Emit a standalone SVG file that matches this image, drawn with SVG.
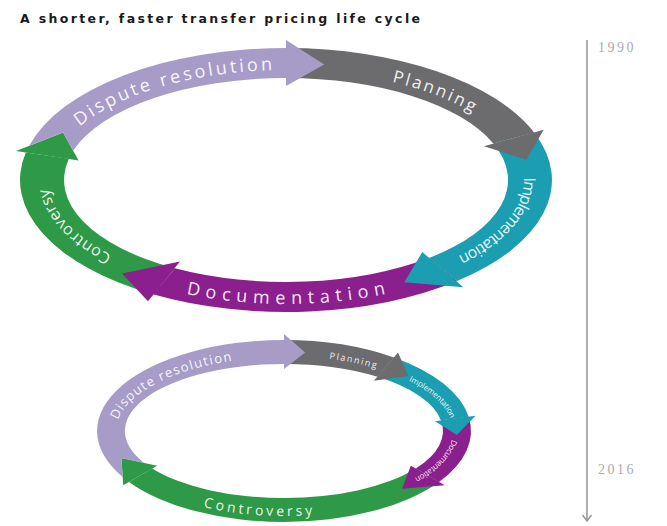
<svg xmlns="http://www.w3.org/2000/svg" xmlns:xlink="http://www.w3.org/1999/xlink" width="667" height="526" viewBox="0 0 667 526">
<style>
.lav{fill:#a79cc7}.gry{fill:#6c6c6f}.tea{fill:#1b9db2}.pur{fill:#8c1f8e}.grn{fill:#2e9a48}
.lbl{fill:#fff;fill-opacity:.92;font-family:"Open Sans","Liberation Sans",sans-serif;dominant-baseline:central}
.yr{fill:#ababab;font-family:"Liberation Serif",serif;font-size:14px;letter-spacing:2.5px}
.title{fill:#1a1a1a;font-family:"DejaVu Sans","Liberation Sans",sans-serif;font-weight:bold;font-size:12.5px}
.tl{fill:none;stroke:#9a9a9a;stroke-width:1.6}
</style>
<defs>
<path id="tp-dis" d="M 64.9 130.6 A 244 117 0 0 1 286 63"/>
<path id="tp-pla" d="M 381.3 72.3 A 244 117 0 0 1 485.9 112.9"/>
<path id="tp-imp" d="M 529.4 171.8 A 244 117 0 0 1 455.5 264.2"/>
<path id="tp-doc" d="M 171.4 283.3 A 244 117 0 0 0 400.6 283.3"/>
<path id="tp-con" d="M 129.2 269.6 A 244 117 0 0 1 43.3 167.8"/>
<path id="tpb-dis" d="M 112 422.7 A 173 79 0 0 1 236.3 355.1"/>
<path id="tpb-pla" d="M 322.9 354 A 173 79 0 0 1 383.2 366.3"/>
<path id="tpb-imp" d="M 399.8 372.3 A 173 79 0 0 1 456.9 428.2"/>
<path id="tpb-doc" d="M 456.6 436.5 A 173 79 0 0 1 412.6 483.9"/>
<path id="tpb-con" d="M 177.5 493.3 A 173 79 0 0 0 340.3 505.7"/>
</defs>
<g id="title"><text class="title" x="20" y="23" textLength="400" lengthAdjust="spacing">A shorter, faster transfer pricing life cycle</text></g>

<g id="cycle-1990">
<g id="c1-controversy">
<path class="grn" d="M 153 294.3 A 266 132 0 0 1 25.8 152.6 L 68.9 158.8 A 222 102 0 0 0 175 268.3 Z"/>
<polygon class="grn" points="16,150.9 63.1,132.4 78.6,160.5"/>
<text class="lbl" font-size="16"><textPath xlink:href="#tp-con" href="#tp-con" startOffset="50%" text-anchor="middle" textLength="100" lengthAdjust="spacing">Controversy</textPath></text>
</g>
<g id="c1-documentation">
<path class="pur" d="M 457 281.1 A 266 132 0 0 1 153 294.3 L 175 268.3 A 222 102 0 0 0 428.7 258.1 Z"/>
<polygon class="pur" points="148,301.2 122,273.6 180,261.4"/>
<text class="lbl" font-size="18"><textPath xlink:href="#tp-doc" href="#tp-doc" startOffset="50%" text-anchor="middle" textLength="198" lengthAdjust="spacing">Documentation</textPath></text>
</g>
<g id="c1-implementation">
<path class="tea" d="M 534.3 132.7 A 266 132 0 0 1 457 281.1 L 428.7 258.1 A 222 102 0 0 0 493.3 143.4 Z"/>
<polygon class="tea" points="463.4,287.2 404.3,282.3 422.3,252"/>
<text class="lbl" font-size="16"><textPath xlink:href="#tp-imp" href="#tp-imp" startOffset="50%" text-anchor="middle" textLength="115" lengthAdjust="spacing">Implementation</textPath></text>
</g>
<g id="c1-planning">
<path class="gry" d="M 286 48 A 266 132 0 0 1 534.3 132.7 L 493.3 143.4 A 222 102 0 0 0 286 78 Z"/>
<polygon class="gry" points="543.7,129.8 526.3,159.7 483.9,146.3"/>
<text class="lbl" font-size="17"><textPath xlink:href="#tp-pla" href="#tp-pla" startOffset="50%" text-anchor="middle" textLength="88" lengthAdjust="spacing">Planning</textPath></text>
</g>
<g id="c1-dispute">
<path class="lav" d="M 29.1 145.7 A 266 132 0 0 1 286 48 L 286 78 A 222 102 0 0 0 73.2 150.8 L 63.1 132.4 Z"/>
<polygon class="lav" points="286,40 324.2,64.4 286,86"/>
<text class="lbl" font-size="18"><textPath xlink:href="#tp-dis" href="#tp-dis" startOffset="50%" text-anchor="middle" textLength="208" lengthAdjust="spacing">Dispute resolution</textPath></text>
</g>
</g>

<g id="cycle-2016">
<g id="c2-controversy">
<path class="grn" d="M 439 481.9 A 187 91 0 0 1 129 481.9 L 152.2 468.5 A 159 67 0 0 0 415.8 468.5 Z"/>
<polygon class="grn" points="123.2,485.2 121.4,458 157.2,465.7"/>
<text class="lbl" font-size="14"><textPath xlink:href="#tpb-con" href="#tpb-con" startOffset="50%" text-anchor="middle" textLength="108" lengthAdjust="spacing">Controversy</textPath></text>
</g>
<g id="c2-documentation">
<path class="pur" d="M 468.7 416.8 A 187 91 0 0 1 439 481.9 L 415.8 468.5 A 159 67 0 0 0 441 420.5 Z"/>
<polygon class="pur" points="444.8,485.2 402,488.8 410.8,465.7"/>
<text class="lbl" font-size="8"><textPath xlink:href="#tpb-doc" href="#tpb-doc" startOffset="50%" text-anchor="middle" textLength="58" lengthAdjust="spacing">Documentation</textPath></text>
</g>
<g id="c2-implementation">
<path class="tea" d="M 393.9 357.4 A 187 91 0 0 1 468.7 416.8 L 441 420.5 A 159 67 0 0 0 377.5 376.8 Z"/>
<polygon class="tea" points="475.6,415.8 456.8,435.1 435.1,421.3"/>
<text class="lbl" font-size="8"><textPath xlink:href="#tpb-imp" href="#tpb-imp" startOffset="50%" text-anchor="middle" textLength="60" lengthAdjust="spacing">Implementation</textPath></text>
</g>
<g id="c2-planning">
<path class="gry" d="M 284 340 A 187 91 0 0 1 393.9 357.4 L 377.5 376.8 A 159 67 0 0 0 284 364 Z"/>
<polygon class="gry" points="398,352.5 408.4,376.1 373.9,380.8"/>
<text class="lbl" font-size="9"><textPath xlink:href="#tpb-pla" href="#tpb-pla" startOffset="50%" text-anchor="middle" textLength="48" lengthAdjust="spacing">Planning</textPath></text>
</g>
<g id="c2-dispute">
<path class="lav" d="M 122.7 477 A 187 91 0 0 1 284 340 L 284 364 A 159 67 0 0 0 144.1 462.9 L 121.4 458 Z"/>
<polygon class="lav" points="284,334 305.1,352.6 284,369"/>
<text class="lbl" font-size="13"><textPath xlink:href="#tpb-dis" href="#tpb-dis" startOffset="50%" text-anchor="middle" textLength="138" lengthAdjust="spacing">Dispute resolution</textPath></text>
</g>
</g>

<g id="connectors">
<line class="tl" x1="587" y1="40" x2="587" y2="521"/>
<polyline class="tl" points="582.5,515 587,521 591.5,515"/>
</g>
<g id="year-1990"><text class="yr" x="598" y="52">1990</text></g>
<g id="year-2016"><text class="yr" x="598" y="474">2016</text></g>
</svg>
